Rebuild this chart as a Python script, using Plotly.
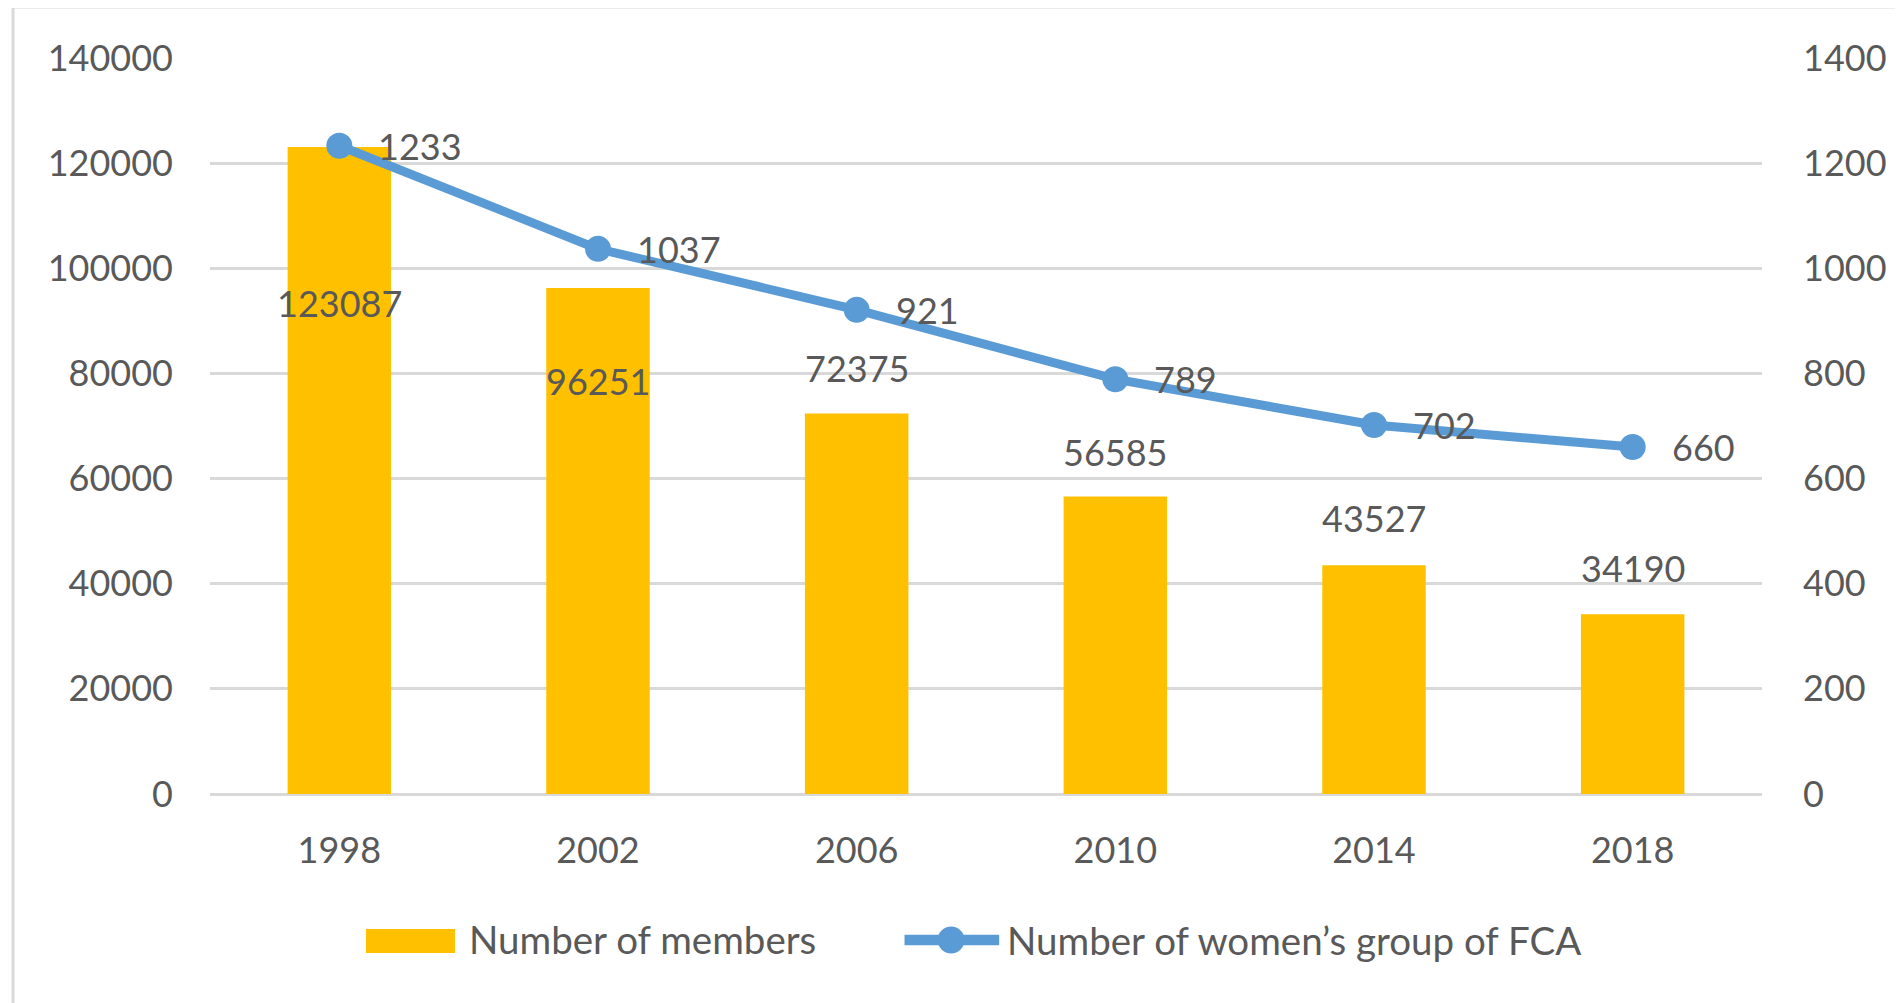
import plotly.graph_objects as go

years = ["1998", "2002", "2006", "2010", "2014", "2018"]
members = [123087, 96251, 72375, 56585, 43527, 34190]
groups = [1233, 1037, 921, 789, 702, 660]
y_left_ticks = [0, 20000, 40000, 60000, 80000, 100000, 120000, 140000]
y_right_ticks = [0, 200, 400, 600, 800, 1000, 1200, 1400]
series_names = ["Number of members", "Number of women\u2019s group of FCA"]

# pixel shift of each bar label from the bar top (manually placed in the source)
bar_label_shift = [-156, -93, 46, 45, 47, 46]

FONT = "Lato, 'Liberation Sans', Arial, sans-serif"
GRAY = "#595959"
GRID = "#D9D9D9"
BAR_C = "#FFC000"
LINE_C = "#5B9BD5"

fig = go.Figure()
fig.add_trace(go.Bar(
    x=years, y=members, name=series_names[0],
    marker=dict(color=BAR_C, line=dict(width=0)),
    width=0.4, yaxis="y", showlegend=False,
))
fig.add_trace(go.Scatter(
    x=years, y=groups, name=series_names[1],
    mode="lines+markers",
    line=dict(color=LINE_C, width=9),
    marker=dict(color=LINE_C, size=26),
    yaxis="y2", showlegend=False,
))

annotations = []
for i, (v, s) in enumerate(zip(members, bar_label_shift)):
    annotations.append(dict(
        x=i, y=v, xref="x", yref="y", text=str(v), showarrow=False,
        yshift=s, yanchor="middle", xanchor="center",
        font=dict(family=FONT, size=36, color=GRAY),
    ))
for i, v in enumerate(groups):
    annotations.append(dict(
        x=i, y=v, xref="x", yref="y2", text=str(v), showarrow=False,
        xshift=37, xanchor="left", yanchor="middle",
        font=dict(family=FONT, size=36, color=GRAY),
    ))

# legend (drawn manually to match the large swatches of the source)
annotations.append(dict(
    x=0.1656, y=-0.197, xref="paper", yref="paper", text=series_names[0],
    showarrow=False, xanchor="left", yanchor="middle",
    font=dict(family=FONT, size=38.5, color=GRAY),
))
annotations.append(dict(
    x=0.5120, y=-0.198, xref="paper", yref="paper", text=series_names[1],
    showarrow=False, xanchor="left", yanchor="middle",
    font=dict(family=FONT, size=38.5, color=GRAY),
))

shapes = [
    dict(type="rect", xref="paper", yref="paper",
         x0=-0.1269, x1=1.2, y0=-0.4, y1=1.0693,
         line=dict(color=GRID, width=3), layer="below"),
    dict(type="rect", xref="paper", yref="paper",
         x0=0.1005, x1=0.1579, y0=-0.2160, y1=-0.1834,
         fillcolor=BAR_C, line=dict(width=0)),
    dict(type="line", xref="paper", yref="paper",
         x0=0.4475, x1=0.5085, y0=-0.1984, y1=-0.1984,
         line=dict(color=LINE_C, width=10.5)),
    dict(type="circle", xref="paper", yref="paper",
         xsizemode="pixel", ysizemode="pixel",
         xanchor=0.4775, yanchor=-0.1984,
         x0=-13.5, x1=13.5, y0=-13.5, y1=13.5,
         fillcolor=LINE_C, line=dict(width=0)),
]

fig.update_layout(
    width=1903, height=1003,
    margin=dict(l=202, r=149, t=50, b=217),
    paper_bgcolor="white", plot_bgcolor="white",
    font=dict(family=FONT, size=36, color=GRAY),
    showlegend=False,
    xaxis=dict(
        type="category", range=[-0.5, len(years) - 0.5],
        showgrid=False, showline=False, ticks="",
        tickfont=dict(family=FONT, size=36, color=GRAY),
        ticklabelstandoff=32, zeroline=False,
    ),
    yaxis=dict(
        range=[0, 140000], tickvals=y_left_ticks,
        ticktext=[str(t) for t in y_left_ticks],
        showgrid=True, gridcolor=GRID, gridwidth=3,
        zeroline=True, zerolinecolor=GRID, zerolinewidth=3,
        showline=False, ticks="",
        tickfont=dict(family=FONT, size=36, color=GRAY),
        ticklabelstandoff=36,
    ),
    yaxis2=dict(
        range=[0, 1400], tickvals=y_right_ticks,
        ticktext=[str(t) for t in y_right_ticks],
        overlaying="y", side="right", showgrid=False, zeroline=False,
        showline=False, ticks="",
        tickfont=dict(family=FONT, size=36, color=GRAY),
        ticklabelstandoff=40,
    ),
    annotations=annotations,
    shapes=shapes,
)

fig.write_html("out.html")
